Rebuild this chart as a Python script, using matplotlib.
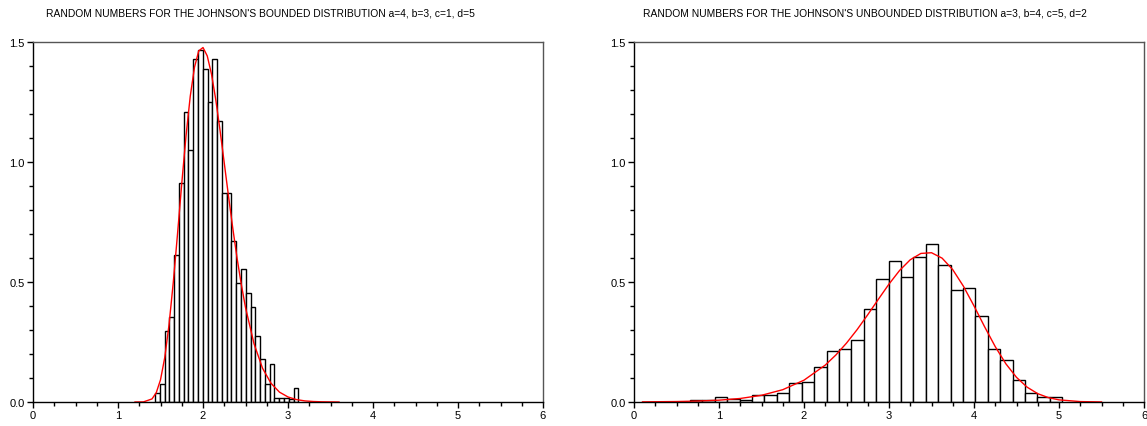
import matplotlib.pyplot as plt
from matplotlib.ticker import MultipleLocator

plt.rcParams["font.family"] = ["Liberation Sans", "DejaVu Sans"]

# Left panel: Johnson bounded sample histogram (30 bins) and its density
SB_TITLE = "RANDOM NUMBERS FOR THE JOHNSON'S BOUNDED DISTRIBUTION a=4, b=3, c=1, d=5"
SB_BIN_START = 1.435
SB_BIN_WIDTH = 0.0562
SB_HEIGHTS = [
    0.036, 0.076, 0.296, 0.356, 0.612, 0.912, 1.210, 1.051, 1.430, 1.467,
    1.389, 1.251, 1.428, 1.171, 0.872, 0.872, 0.672, 0.494, 0.556, 0.453,
    0.397, 0.275, 0.178, 0.076, 0.157, 0.018, 0.018, 0.018, 0.014, 0.057,
]
SB_CURVE_X = [
    1.2, 1.3, 1.4, 1.45, 1.5, 1.55, 1.6, 1.65, 1.7, 1.75, 1.8, 1.85, 1.9,
    1.95, 2.0, 2.05, 2.1, 2.15, 2.2, 2.25, 2.3, 2.35, 2.4, 2.45, 2.5, 2.6,
    2.7, 2.8, 2.9, 3.0, 3.1, 3.2, 3.3, 3.4, 3.6,
]
SB_CURVE_Y = [
    0.0, 0.0005, 0.0128, 0.0387, 0.0925, 0.185, 0.321, 0.497, 0.699, 0.910,
    1.108, 1.274, 1.395, 1.463, 1.477, 1.442, 1.366, 1.260, 1.133, 0.996,
    0.858, 0.725, 0.601, 0.491, 0.394, 0.243, 0.141, 0.078, 0.041, 0.021,
    0.010, 0.0045, 0.002, 0.0008, 0.0,
]

# Right panel: Johnson unbounded sample histogram (30 bins) and its density
SU_TITLE = "RANDOM NUMBERS FOR THE JOHNSON'S UNBOUNDED DISTRIBUTION a=3, b=4, c=5, d=2"
SU_BIN_START = 0.659
SU_BIN_WIDTH = 0.146
SU_HEIGHTS = [
    0.007, 0.007, 0.022, 0.014, 0.008, 0.029, 0.029, 0.0375, 0.078, 0.083,
    0.146, 0.2125, 0.221, 0.258, 0.389, 0.511, 0.586, 0.519, 0.603, 0.658,
    0.572, 0.467, 0.474, 0.358, 0.221, 0.175, 0.092, 0.0375, 0.022, 0.022,
]
SU_CURVE_X = [
    0.1, 0.5, 0.75, 1.0, 1.25, 1.5, 1.75, 2.0, 2.25, 2.375, 2.5, 2.625,
    2.75, 2.875, 3.0, 3.125, 3.25, 3.375, 3.5, 3.625, 3.75, 3.875, 4.0,
    4.125, 4.25, 4.375, 4.5, 4.625, 4.75, 4.875, 5.0, 5.25, 5.5,
]
SU_CURVE_Y = [
    0.0006, 0.0019, 0.0039, 0.0076, 0.0147, 0.0279, 0.0513, 0.0909, 0.1538,
    0.1959, 0.2454, 0.3017, 0.3636, 0.4281, 0.4914, 0.5483, 0.5927, 0.6190,
    0.6220, 0.5993, 0.5514, 0.4827, 0.4004, 0.3134, 0.2306, 0.1591, 0.1027,
    0.0618, 0.0347, 0.0182, 0.0089, 0.0017, 0.0003,
]

X_TICKS = [0, 1, 2, 3, 4, 5, 6]
Y_TICKS = [0.0, 0.5, 1.0, 1.5]
Y_TICK_LABELS = ["0.0", "0.5", "1.0", "1.5"]


def draw_panel(ax, bin_start, bin_width, heights, curve_x, curve_y):
    lefts = [bin_start + i * bin_width for i in range(len(heights))]
    ax.bar(lefts, heights, width=bin_width, align="edge",
           facecolor="white", edgecolor="black", linewidth=1.0)
    ax.plot(curve_x, curve_y, color="red", linewidth=1.0)

    ax.set_xlim(0, 6)
    ax.set_ylim(0, 1.5)
    ax.set_xticks(X_TICKS)
    ax.set_xticklabels([str(t) for t in X_TICKS])
    ax.set_yticks(Y_TICKS)
    ax.set_yticklabels(Y_TICK_LABELS)
    ax.xaxis.set_minor_locator(MultipleLocator(0.25))
    ax.yaxis.set_minor_locator(MultipleLocator(0.1))
    ax.tick_params(which="both", direction="out", labelsize=8, pad=2,
                   width=1.0, color="black")
    ax.tick_params(which="major", length=4)
    ax.tick_params(which="minor", length=3)
    for side in ("left", "bottom"):
        ax.spines[side].set_color("black")
        ax.spines[side].set_linewidth(1.0)
    for side in ("top", "right"):
        ax.spines[side].set_color("#555555")
        ax.spines[side].set_linewidth(1.0)


fig = plt.figure(figsize=(11.47, 4.27), dpi=100)
ax_sb = fig.add_axes([33 / 1147, 24 / 427, 510 / 1147, 360 / 427])
ax_su = fig.add_axes([634 / 1147, 24 / 427, 510 / 1147, 360 / 427])

draw_panel(ax_sb, SB_BIN_START, SB_BIN_WIDTH, SB_HEIGHTS, SB_CURVE_X, SB_CURVE_Y)
draw_panel(ax_su, SU_BIN_START, SU_BIN_WIDTH, SU_HEIGHTS, SU_CURVE_X, SU_CURVE_Y)

fig.text(260 / 1147, 1 - 13.5 / 427, SB_TITLE, ha="center", va="center", fontsize=7.4)
fig.text(865 / 1147, 1 - 13.5 / 427, SU_TITLE, ha="center", va="center", fontsize=7.4)

fig.savefig("out.png", dpi=100)
plt.close(fig)
